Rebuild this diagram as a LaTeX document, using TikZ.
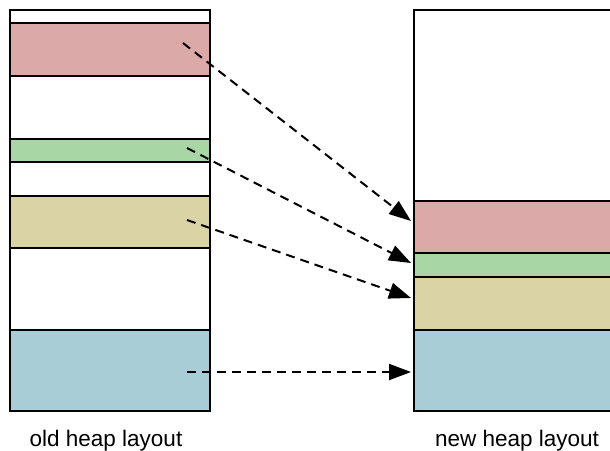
\documentclass[tikz,border=0pt]{standalone}
\usepackage{fontspec}
\setmainfont{Liberation Sans}
\usetikzlibrary{arrows.meta}
\definecolor{blkred}{RGB}{219,170,168}
\definecolor{blkgreen}{RGB}{168,215,165}
\definecolor{blkyellow}{RGB}{218,211,165}
\definecolor{blkblue}{RGB}{168,205,215}
\begin{document}
\begin{tikzpicture}[x=1pt,y=-1pt,
  heap/.style={draw=black, line width=2pt, fill=white, inner sep=0pt, anchor=north west, minimum width=200pt},
  blk/.style={heap, minimum height=#1},
  move/.style={line width=2pt, dash pattern=on 9pt off 6pt, -{Triangle[length=22pt,width=16pt]}},
  caption/.style={anchor=base, font=\fontsize{22.5}{26}\selectfont, inner sep=0pt}]
\useasboundingbox (0,0) rectangle (610,450);
% heaps
\node[heap, minimum height=401pt] (old) at (9,9) {};
\node[heap, minimum height=401pt] (new) at (413,9) {};
% live objects in the old heap
\node[blk=53pt, fill=blkred] (ored) at (9,22) {};
\node[blk=23pt, fill=blkgreen] (ogreen) at (9,138) {};
\node[blk=52pt, fill=blkyellow] (oyellow) at (9,195) {};
\node[blk=81pt, fill=blkblue] (oblue) at (9,329) {};
% compacted objects in the new heap
\node[blk=52pt, fill=blkred] (nred) at (413,200) {};
\node[blk=24pt, fill=blkgreen] (ngreen) at (413,252) {};
\node[blk=53pt, fill=blkyellow] (nyellow) at (413,276) {};
\node[blk=81pt, fill=blkblue] (nblue) at (413,329) {};
% arrow end points
\coordinate (s1) at (183,43);
\coordinate (s2) at (187,148);
\coordinate (s3) at (187,220);
\coordinate (s4) at (187,372);
\coordinate (e1) at (411,221);
\coordinate (e2) at (411,263);
\coordinate (e3) at (411,298);
\coordinate (e4) at (411,372);
\draw[move] (s1) -- (e1);
\draw[move] (s2) -- (e2);
\draw[move] (s3) -- (e3);
\draw[move] (s4) -- (e4);
% captions
\node[caption] (lold) at (106,446) {old heap layout};
\node[caption] (lnew) at (517,446) {new heap layout};
\end{tikzpicture}
\end{document}
